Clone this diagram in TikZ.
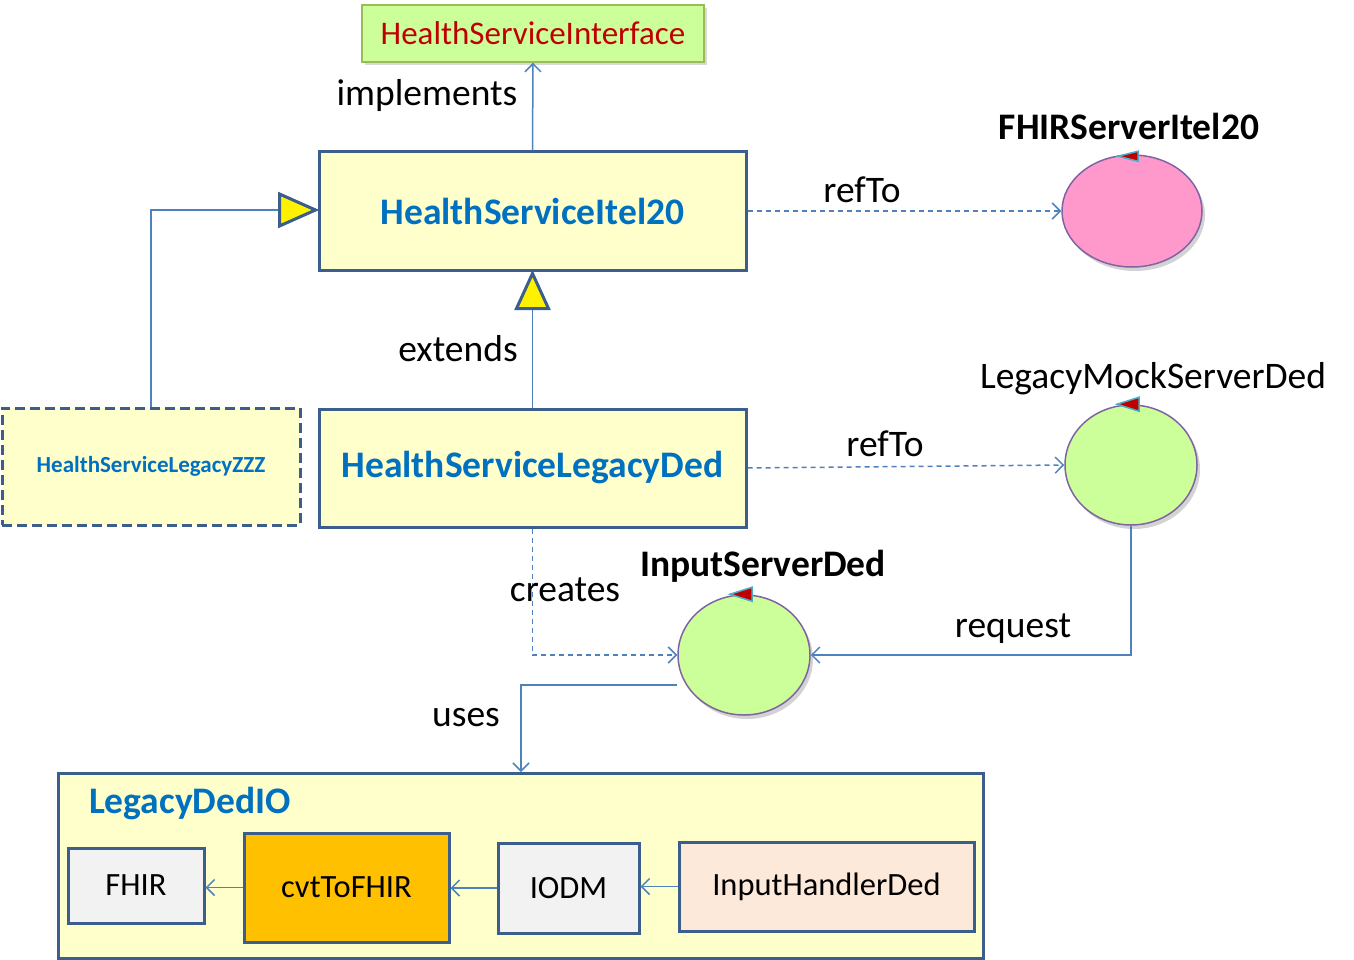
\documentclass[tikz,border=0pt]{standalone}
\usepackage{fontspec}
\setmainfont{Carlito}
\usetikzlibrary{arrows.meta,shapes.geometric,shadows,calc}
\definecolor{lnblue}{HTML}{4F81BD}
\definecolor{bdr}{HTML}{3B5E8C}
\definecolor{boxfill}{HTML}{FFFFCC}
\definecolor{txtblue}{HTML}{0070C0}
\definecolor{lgreen}{HTML}{CCFF99}
\definecolor{oliveg}{HTML}{9BBB59}
\definecolor{pinkf}{HTML}{FF99CC}
\definecolor{purp}{HTML}{8064A2}
\definecolor{redt}{HTML}{C00000}
\definecolor{greyf}{HTML}{F2F2F2}
\definecolor{orangef}{HTML}{FFC000}
\definecolor{peach}{HTML}{FDE9D9}
\definecolor{cyanb}{HTML}{4BACC6}
\newcommand{\fs}[1]{\fontsize{#1}{#1}\selectfont}
\tikzset{
  conn/.style={draw=lnblue, line width=1.5pt},
  tip/.style={-{Straight Barb[length=8pt,width=16pt]}},
  classbox/.style={draw=bdr, line width=3pt, fill=boxfill, inner sep=0pt, text=txtblue, font=\fs{37.5}\bfseries},
  smallbox/.style={draw=bdr, line width=3pt, inner sep=0pt, font=\fs{32.5}},
  circ/.style={ellipse, draw=purp, line width=1.5pt, inner sep=0pt, drop shadow={opacity=0.35, shadow xshift=3pt, shadow yshift=-4pt}},
  lbl/.style={font=\fs{37.5}, inner sep=0pt},
  gen/.style={draw=bdr, line width=3pt, fill=yellow, line join=miter},
  marker/.style={draw=cyanb, line width=1.5pt, fill=redt}
}
\begin{document}
\begin{tikzpicture}[x=1pt,y=-1pt]
\useasboundingbox (0,0) rectangle (1354,960);

% top interface
\node[draw=oliveg, line width=1.5pt, fill=lgreen, minimum width=342, minimum height=57, inner sep=0pt, text=redt, font=\fs{33}, drop shadow={opacity=0.3, shadow xshift=3pt, shadow yshift=-3pt}] (hsi) at (533,33.5) {HealthServiceInterface};

\node[classbox, minimum width=427, minimum height=118] (hsi20) at (532.5,211) {HealthServiceItel20};
\node[classbox, minimum width=427, minimum height=118] (hsld) at (532.5,468) {HealthServiceLegacyDed};
\node[classbox, dashed, dash pattern=on 10pt off 5pt, minimum width=298, minimum height=117, font=\fs{23}\bfseries] (zzz) at (151,466.5) {HealthServiceLegacyZZZ};

% circles
\node[circ, fill=pinkf, minimum width=140, minimum height=112] (fhirsrv) at (1132,211) {};
\node[circ, fill=lgreen, minimum width=132, minimum height=120] (lms) at (1131,465) {};
\node[circ, fill=lgreen, minimum width=132, minimum height=120] (isd) at (744,655) {};

\node[lbl, font=\fs{37.5}\bfseries] (fhirsrvl) at (1129,126) {FHIRServerItel20};
\node[lbl] (lmsl) at (1153,379) {LegacyMockServerDed};
\node[lbl, font=\fs{37.5}\bfseries] (isdl) at (763,566) {InputServerDed};

% markers
\draw[marker] ($(fhirsrv.north)+(6,-3)$) -- ++(0,10) -- ++(-20,-5) -- cycle;
\draw[marker] ($(lms.north)+(8,-7)$) -- ++(0,14) -- ++(-22,-7) -- cycle;
\draw[marker] ($(isd.north)+(8,-7)$) -- ++(0,14) -- ++(-22,-7) -- cycle;

% implements
\draw[conn, tip] (hsi20.north) -- (hsi.south);
\node[lbl] (impl) at (427,96) {implements};

% refTo
\draw[conn, dashed, dash pattern=on 5pt off 4pt, tip] (hsi20.east) -- (fhirsrv.west);
\node[lbl] (ref1) at (862,190) {refTo};
\draw[conn, dashed, dash pattern=on 5pt off 4pt, tip] (hsld.east) -- (lms.west);
\node[lbl] (ref2) at (885,444) {refTo};

% extends
\coordinate (ext) at ($(hsi20.south)+(0,37)$);
\draw[conn] (hsld.north) -- (ext);
\draw[gen] ($(hsi20.south)+(0,2)$) -- ($(ext)+(16,0)$) -- ($(ext)+(-16,0)$) -- cycle;
\node[lbl] (extl) at (458,349) {extends};

% ZZZ generalization
\coordinate (gz) at ($(hsi20.west)+(-38,-1)$);
\draw[conn] (zzz.north) |- (gz);
\draw[gen] ($(hsi20.west)+(-2,-1)$) -- ($(gz)+(0,-16)$) -- ($(gz)+(0,16)$) -- cycle;

% creates
\draw[conn, dashed, dash pattern=on 5pt off 4pt, tip] (hsld.south) |- (isd.west);
\node[lbl] (crl) at (565,590) {creates};

% request
\draw[conn, tip] (lms.south) |- (isd.east);
\node[lbl] (rql) at (1013,629) {request};

% LegacyDedIO container
\node[draw=bdr, line width=3pt, fill=boxfill, minimum width=925, minimum height=185, inner sep=0pt] (io) at (520.5,865.5) {};
\node[lbl, font=\fs{37.5}\bfseries, text=txtblue] (iol) at (190,804) {LegacyDedIO};

% uses
\coordinate (us) at ($(isd.west)+(0,30)$);
\coordinate (ue) at (521,772);
\draw[conn, tip] (us) -| (ue);
\node[lbl] (usl) at (466,718) {uses};

% inner boxes
\node[smallbox, fill=greyf, minimum width=136, minimum height=75] (fhir) at (136,885.5) {FHIR};
\node[smallbox, fill=orangef, minimum width=205, minimum height=109] (cvt) at (346.5,887.5) {cvtToFHIR};
\node[smallbox, fill=greyf, minimum width=141, minimum height=90] (iodm) at (568.5,888) {IODM};
\node[smallbox, fill=peach, minimum width=295, minimum height=89] (ihd) at (826.5,886.5) {InputHandlerDed};

\draw[conn, tip] (cvt.west) -- (fhir.east |- cvt.west);
\draw[conn, tip] (iodm.west) -- (cvt.east |- iodm.west);
\draw[conn, tip] (ihd.west) -- (iodm.east |- ihd.west);
\end{tikzpicture}
\end{document}
